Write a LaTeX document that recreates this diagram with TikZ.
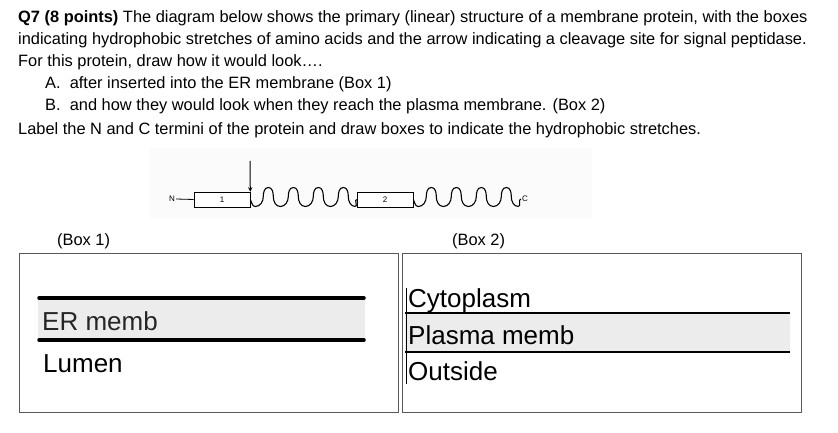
\documentclass[tikz,border=0pt]{standalone}
\usepackage{fontspec}
\setmainfont{Liberation Sans}
\begin{document}
\begin{tikzpicture}[x=1pt,y=-1pt,
  txt/.style={anchor=base west,inner sep=0,font=\fontsize{16.4}{19}\selectfont},
  lbl/.style={anchor=base west,inner sep=0,font=\fontsize{26}{29}\selectfont},
  seg/.style={draw,fill=white,minimum width=56,minimum height=15,inner sep=0,line width=0.6,font=\fontsize{8}{9}\selectfont},
  wv/.style={line width=1.1},
  memb/.style={line width=3.5,line cap=round}]
\useasboundingbox (0,0) rectangle (838,433);
\node[txt] (t1) at (18,23) {\textbf{Q7 (8 points)} The diagram below shows the primary (linear) structure of a membrane protein, with the boxes};
\node[txt] (t2) at (18,45) {indicating hydrophobic stretches of amino acids and the arrow indicating a cleavage site for signal peptidase.};
\node[txt] (t3) at (18,67) {For this protein, draw how it would look\dots.};
\node[txt] (t4) at (45,89) {A.\ \ after inserted into the ER membrane (Box 1)};
\node[txt] (t5) at (45,111) {B.\ \ and how they would look when they reach the plasma membrane. (Box 2)};
\node[txt] (t6) at (18,135) {Label the N and C termini of the protein and draw boxes to indicate the hydrophobic stretches.};
% diagram
\fill[gray!3] (150,148) rectangle (592,218);
\node[font=\fontsize{8}{9}\selectfont,inner sep=1] (N) at (172,199) {N};
\node[seg] (b1) at (222,199.5) {1};
\node[seg] (b2) at (385,199.5) {2};
\node[font=\fontsize{8}{9}\selectfont,inner sep=1] (C) at (525,199) {C};
\draw[line width=0.8] (N.east) -- (b1.west);
\draw[wv] (b1.east) to[out=-60,in=180] ++(5,7)
  \foreach \i in {1,...,4} { to[out=0,in=-90] ++(8,-10) to[out=90,in=180] ++(5,-9) to[out=0,in=90] ++(5,9) to[out=-90,in=180] ++(7,10) }
  coordinate (w1);
\draw[wv] (w1) to[out=0,in=180] (b2.west);
\draw[wv] (b2.east) to[out=-60,in=180] ++(5,7)
  \foreach \i in {1,...,4} { to[out=0,in=-90] ++(8,-10) to[out=90,in=180] ++(5,-9) to[out=0,in=90] ++(5,9) to[out=-90,in=180] ++(7,10) }
  coordinate (w2);
\draw[wv] (w2) to[out=0,in=180] (C.west);
\coordinate (arT) at (250,161);
\draw[-stealth,line width=1] (arT) -- (b1.north east);
% boxes
\node[anchor=base west,inner sep=0,font=\fontsize{16.4}{19}\selectfont] (l1) at (57,245) {(Box 1)};
\node[anchor=base west,inner sep=0,font=\fontsize{16.4}{19}\selectfont] (l2) at (452,245) {(Box 2)};
\draw[line width=0.8,gray!70!black] (19,253) rectangle (398,412);
\draw[line width=0.8,gray!70!black] (402,253) rectangle (801,412);
\fill[gray!15] (38,299) rectangle (365,339);
\draw[memb] (39,298) -- (364,298);
\draw[memb] (39,340) -- (364,340);
\node[lbl,gray!30!black] (er) at (42,330) {ER memb};
\node[lbl] (lu) at (43,372) {Lumen};
\fill[gray!15] (405,314) rectangle (790,351);
\draw[line width=2.5] (405,313) -- (790,313);
\draw[line width=2.5] (405,352) -- (790,352);
\draw[line width=0.8] (406,288) -- (406,384);
\node[lbl] (cy) at (408,307) {Cytoplasm};
\node[lbl] (pm) at (408,344) {Plasma memb};
\node[lbl] (ou) at (408,380) {Outside};
\end{tikzpicture}
\end{document}
